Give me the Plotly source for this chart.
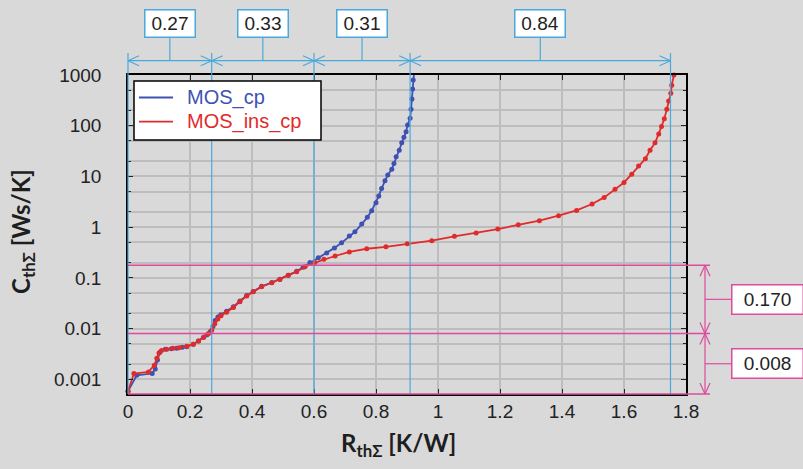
import math
import plotly.graph_objects as go

# Cumulative thermal structure functions: R_th (K/W) vs C_th (Ws/K)
r_mos_cp = [0.0, 0.028, 0.078, 0.088, 0.095, 0.103, 0.12, 0.14, 0.157, 0.175, 0.189,
            0.211, 0.227, 0.243, 0.255, 0.265, 0.274, 0.281, 0.29, 0.299, 0.318, 0.34,
            0.361, 0.383, 0.404, 0.431, 0.464, 0.49, 0.517, 0.544, 0.565, 0.587, 0.614,
            0.641, 0.666, 0.689, 0.714, 0.732, 0.754, 0.772, 0.786, 0.8, 0.809, 0.818,
            0.829, 0.838, 0.851, 0.858, 0.865, 0.875, 0.883, 0.89, 0.897, 0.902, 0.91,
            0.913, 0.916, 0.918, 0.92, 0.923]
c_mos_cp = [0.00058, 0.0012, 0.0013, 0.0016, 0.0024, 0.0034, 0.0039, 0.0040, 0.0041,
            0.0043, 0.0044, 0.0049, 0.0057, 0.0067, 0.0076, 0.0087, 0.011, 0.0145, 0.017,
            0.0188, 0.022, 0.027, 0.035, 0.045, 0.054, 0.068, 0.081, 0.094, 0.113, 0.135,
            0.162, 0.20, 0.25, 0.31, 0.39, 0.49, 0.67, 0.81, 1.15, 1.56, 2.11, 3.03, 4.1,
            5.8, 8.2, 10.7, 13.8, 18.0, 24.5, 33.0, 46.0, 59.0, 76.0, 103.0, 140.0, 210.0,
            337.0, 530.0, 795.0, 1170.0]

r_mos_ins_cp = [0.0, 0.019, 0.066, 0.085, 0.093, 0.10, 0.108, 0.125, 0.145, 0.165, 0.19,
                0.21, 0.228, 0.245, 0.26, 0.27, 0.28, 0.29, 0.30, 0.318, 0.34, 0.361,
                0.383, 0.404, 0.431, 0.464, 0.49, 0.517, 0.544, 0.571, 0.603, 0.632, 0.668,
                0.714, 0.77, 0.832, 0.901, 0.98, 1.053, 1.123, 1.193, 1.259, 1.327, 1.389,
                1.447, 1.497, 1.536, 1.571, 1.60, 1.625, 1.647, 1.669, 1.684, 1.70, 1.712,
                1.721, 1.73, 1.738, 1.744, 1.751, 1.754, 1.761]
c_mos_ins_cp = [0.00058, 0.0013, 0.0014, 0.0019, 0.0026, 0.0033, 0.0037, 0.0039, 0.0041,
                0.0042, 0.0045, 0.0049, 0.0057, 0.0068, 0.0080, 0.0093, 0.0125, 0.0155,
                0.018, 0.021, 0.026, 0.034, 0.044, 0.053, 0.067, 0.080, 0.093, 0.112,
                0.132, 0.166, 0.20, 0.232, 0.27, 0.324, 0.375, 0.41, 0.47, 0.54, 0.658,
                0.766, 0.918, 1.11, 1.34, 1.68, 2.14, 2.86, 3.86, 5.56, 7.6, 11.1, 16.0,
                22.4, 32.7, 46.0, 69.0, 96.0, 137.0, 210.0, 307.0, 436.0, 630.0, 1000.0]

series_names = ["MOS_cp", "MOS_ins_cp"]

x_tick_vals = [0, 0.2, 0.4, 0.6, 0.8, 1.0, 1.2, 1.4, 1.6, 1.8]
x_tick_text = ["0", "0.2", "0.4", "0.6", "0.8", "1", "1.2", "1.4", "1.6", "1.8"]
y_tick_vals = [0.001, 0.01, 0.1, 1, 10, 100, 1000]
y_tick_text = ["0.001", "0.01", "0.1", "1", "10", "100", "1000"]

# Partial thermal resistances (top dimension chain) and capacitances (right chain)
r_parts = [0.27, 0.33, 0.31, 0.84]
r_part_labels = ["0.27", "0.33", "0.31", "0.84"]
c_parts = [0.008, 0.170]
c_part_labels = ["0.008", "0.170"]

BLUE = "#3d52b3"
RED = "#e12b2b"
DIM_BLUE = "#4aa9dc"
DIM_PINK = "#dd4c9c"
BG = "#d9d9d9"
GRID = "#bdbdbd"
TXT = "#222222"

W, H = 803, 469
ML, MR, MT, MB = 128, 117, 75, 75
PW, PH = W - ML - MR, H - MT - MB
X_LO, X_HI = 0.0, 1.8
Y_LO, Y_HI = math.log10(0.000513), 3.0


def xp(px):
    return (px - ML) / PW


def yp(py):
    return (H - MB - py) / PH


def xd(v):
    return (v - X_LO) / (X_HI - X_LO)


def yd(v):
    return (math.log10(v) - Y_LO) / (Y_HI - Y_LO)


shapes = []
annotations = []


def seg(x0, y0, x1, y1, color, width=1.2):
    shapes.append(dict(type="line", xref="paper", yref="paper", x0=x0, y0=y0,
                       x1=x1, y1=y1, line=dict(color=color, width=width), layer="above"))


def label_box(x, y, text, color, w, h):
    annotations.append(dict(x=x, y=y, xref="paper", yref="paper", text=text,
                            xanchor="center", yanchor="middle",
                            showarrow=False, width=w, height=h, borderpad=0,
                            bgcolor="white", bordercolor=color, borderwidth=1.5,
                            font=dict(family="Liberation Sans", size=19, color=TXT)))


# --- dimension chain along R (top) ---
r_bounds = [0.0]
for p in r_parts:
    r_bounds.append(r_bounds[-1] + p)
dim_y = yp(60.7)
for b in r_bounds:
    seg(xd(b), 0, xd(b), yp(53), DIM_BLUE, 1.2)
seg(xd(r_bounds[0]), dim_y, xd(r_bounds[-1]), dim_y, DIM_BLUE, 1.2)
ax_len, ax_half = 11 / PW, 5 / PH
for a, b, lab in zip(r_bounds[:-1], r_bounds[1:], r_part_labels):
    for s in (1, -1):
        seg(xd(a), dim_y, xd(a) + ax_len, dim_y + s * ax_half, DIM_BLUE, 1.2)
        seg(xd(b), dim_y, xd(b) - ax_len, dim_y + s * ax_half, DIM_BLUE, 1.2)
    mid = (xd(a) + xd(b)) / 2
    seg(mid, dim_y, mid, yp(38), DIM_BLUE, 1.2)
    label_box(mid, yp(23.5), lab, DIM_BLUE, 49, 26)

# --- dimension chain along C (right) ---
c_bounds = [0.0]
for p in c_parts:
    c_bounds.append(c_bounds[-1] + p)
c_pos = [0.0] + [yd(v) for v in c_bounds[1:]]
dim_x = xp(705)
for yv in c_pos:
    seg(0, yv, xp(710), yv, DIM_PINK, 1.5)
seg(dim_x, c_pos[0], dim_x, c_pos[-1], DIM_PINK, 1.2)
vx_half, vy_len = 5 / PW, 11 / PH
for lo, hi, lab in zip(c_pos[:-1], c_pos[1:], c_part_labels):
    for s in (1, -1):
        seg(dim_x, lo, dim_x + s * vx_half, lo + vy_len, DIM_PINK, 1.2)
        seg(dim_x, hi, dim_x + s * vx_half, hi - vy_len, DIM_PINK, 1.2)
    mid = (lo + hi) / 2
    seg(dim_x, mid, xp(731), mid, DIM_PINK, 1.2)
    label_box(xp(767), mid, lab, DIM_PINK, 70, 28)

# --- legend box (line samples + coloured names) ---
shapes.append(dict(type="rect", xref="paper", yref="paper", x0=xp(134), x1=xp(321),
                   y0=yp(140), y1=yp(81), fillcolor="white",
                   line=dict(color="black", width=1.5), layer="above"))
for row_y, color, name in zip((97.5, 121.7), (BLUE, RED), series_names):
    seg(xp(139), yp(row_y), xp(173), yp(row_y), color, 1.8)
    annotations.append(dict(x=xp(185), y=yp(row_y), xref="paper", yref="paper",
                            text=name, showarrow=False, xanchor="left", yanchor="middle",
                            font=dict(family="Liberation Sans", size=20, color=color)))

# --- axis titles ---
title_font = dict(family="Lato", size=24, color="#1e1e1e")
annotations.append(dict(x=xp(398), y=yp(444), xref="paper", yref="paper",
                        xanchor="center", yanchor="middle",
                        text="<b>R<sub>thΣ</sub> [K/W]</b>", showarrow=False,
                        font=title_font))
annotations.append(dict(x=xp(22), y=yp(232), xref="paper", yref="paper",
                        xanchor="center", yanchor="middle",
                        text="<b>C<sub>thΣ</sub> [Ws/K]</b>", showarrow=False,
                        textangle=-90, font=title_font))

fig = go.Figure()
for r, c, color, name in [(r_mos_cp, c_mos_cp, BLUE, series_names[0]),
                          (r_mos_ins_cp, c_mos_ins_cp, RED, series_names[1])]:
    fig.add_trace(go.Scatter(x=r, y=c, mode="lines+markers", name=name,
                             line=dict(color=color, width=1.8),
                             marker=dict(color=color, size=5), cliponaxis=False))

minor_vals = [m * 10 ** e for e in range(-4, 3) for m in (2, 5)]

axis_common = dict(showline=True, linecolor="black", linewidth=1.5, mirror="ticks",
                   ticks="inside", ticklen=5, tickcolor=TXT, tickwidth=1.2,
                   showgrid=True, gridcolor=GRID, gridwidth=1.5, zeroline=False,
                   tickfont=dict(family="Liberation Sans", size=19, color=TXT))

fig.update_layout(
    width=W, height=H,
    margin=dict(l=ML, r=MR, t=MT, b=MB, pad=0),
    paper_bgcolor=BG, plot_bgcolor=BG,
    xaxis=dict(range=[X_LO, X_HI], tickvals=x_tick_vals, ticktext=x_tick_text,
               ticklabelstandoff=-1, **axis_common),
    yaxis=dict(type="log", range=[Y_LO, Y_HI], tickvals=y_tick_vals,
               ticktext=y_tick_text, ticklabelstandoff=21,
               minor=dict(tickvals=minor_vals, ticks="inside", ticklen=3,
                          tickcolor=TXT, showgrid=True, gridcolor=GRID, gridwidth=1.5),
               **axis_common),
    shapes=shapes,
    annotations=annotations,
    showlegend=False,
)

fig.write_html("out.html")
